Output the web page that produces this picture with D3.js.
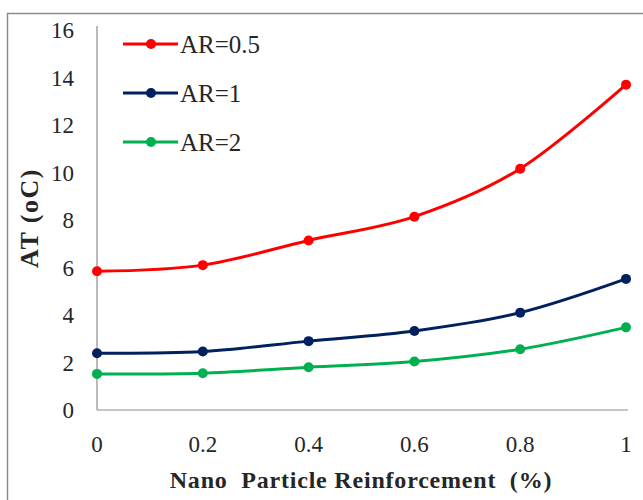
<!DOCTYPE html>
<html>
<head>
<meta charset="utf-8">
<script src="https://cdn.jsdelivr.net/npm/d3@7"></script>
<style>
  body { margin: 0; background: #fff; }
</style>
</head>
<body>
<svg id="chart" width="643" height="500"></svg>
<script>
const xValues = [0, 0.2, 0.4, 0.6, 0.8, 1]
const xTicks = [0, 0.2, 0.4, 0.6, 0.8, 1]
const yTicks = [0, 2, 4, 6, 8, 10, 12, 14, 16]
const seriesNames = ['AR=0.5', 'AR=1', 'AR=2']
const seriesColors = ['#ff0000', '#002060', '#00b050']
const ar05 = [5.84, 6.1, 7.14, 8.14, 10.16, 13.7]
const ar1 = [2.39, 2.46, 2.9, 3.33, 4.1, 5.52]
const ar2 = [1.52, 1.55, 1.8, 2.04, 2.56, 3.48]
const seriesValues = [ar05, ar1, ar2]

const FONT = "'Liberation Serif'"

const svg = d3.select('#chart')

// outer frame runs off the right and bottom edge
svg.append('rect')
  .attr('x', 7.5).attr('y', 13.5)
  .attr('width', 700).attr('height', 600)
  .attr('fill', 'none').attr('stroke', '#8c8c8c').attr('stroke-width', 1.5)

const x = d3.scaleLinear().domain([0, 1]).range([97, 626])
const y = d3.scaleLinear().domain([0, 16]).range([410, 30])

// axis lines
svg.append('line')
  .attr('x1', x(0)).attr('x2', 628).attr('y1', y(0)).attr('y2', y(0))
  .attr('stroke', '#8c8c8c').attr('stroke-width', 1.2)
svg.append('line')
  .attr('x1', x(0)).attr('x2', x(0)).attr('y1', y(0)).attr('y2', 26)
  .attr('stroke', '#8c8c8c').attr('stroke-width', 1.2)

svg.selectAll('.ytick')
  .data(yTicks)
  .join('text')
    .attr('class', 'ytick')
    .attr('x', 74)
    .attr('y', d => y(d))
    .attr('dy', '0.35em')
    .attr('text-anchor', 'end')
    .style('font-family', FONT)
    .attr('font-size', 23)
    .attr('fill', '#262626')
    .text(d => d)

svg.selectAll('.xtick')
  .data(xTicks)
  .join('text')
    .attr('class', 'xtick')
    .attr('x', d => x(d))
    .attr('y', 444)
    .attr('dy', '0.35em')
    .attr('text-anchor', 'middle')
    .style('font-family', FONT)
    .attr('font-size', 23)
    .attr('fill', '#262626')
    .text(d => d)

svg.append('text')
  .attr('x', 361).attr('y', 480)
  .attr('dy', '0.35em')
  .attr('text-anchor', 'middle')
  .attr('xml:space', 'preserve')
  .style('white-space', 'pre')
  .style('font-family', FONT)
  .style('letter-spacing', '0.8px')
  .attr('font-size', 24)
  .attr('font-weight', 'bold')
  .attr('fill', '#262626')
  .text('Nano  Particle Reinforcement  (%)')

svg.append('text')
  .attr('transform', 'translate(29,218) rotate(-90)')
  .attr('dy', '0.35em')
  .attr('text-anchor', 'middle')
  .style('font-family', FONT)
  .style('letter-spacing', '1.5px')
  .attr('font-size', 26)
  .attr('font-weight', 'bold')
  .attr('fill', '#262626')
  .text('AT (oC)')

const line = d3.line()
  .x(d => x(d.x))
  .y(d => y(d.y))
  .curve(d3.curveCatmullRom.alpha(0))

seriesValues.forEach((vals, i) => {
  const pts = vals.map((v, j) => ({ x: xValues[j], y: v }))
  const g = svg.append('g')
  g.append('path')
    .datum(pts)
    .attr('fill', 'none')
    .attr('stroke', seriesColors[i])
    .attr('stroke-width', 3)
    .attr('d', line)
  g.selectAll('circle')
    .data(pts)
    .join('circle')
      .attr('cx', d => x(d.x))
      .attr('cy', d => y(d.y))
      .attr('r', 5)
      .attr('fill', seriesColors[i])
})

// legend
const legend = svg.append('g')
seriesNames.forEach((name, i) => {
  const ly = 44 + i * 49
  legend.append('line')
    .attr('x1', 123).attr('x2', 178).attr('y1', ly).attr('y2', ly)
    .attr('stroke', seriesColors[i]).attr('stroke-width', 3)
  legend.append('circle')
    .attr('cx', 151).attr('cy', ly).attr('r', 5)
    .attr('fill', seriesColors[i])
  legend.append('text')
    .attr('x', 180).attr('y', ly)
    .attr('dy', '0.35em')
    .style('font-family', FONT)
    .attr('font-size', 25)
    .attr('fill', '#262626')
    .text(name)
})
</script>
</body>
</html>
